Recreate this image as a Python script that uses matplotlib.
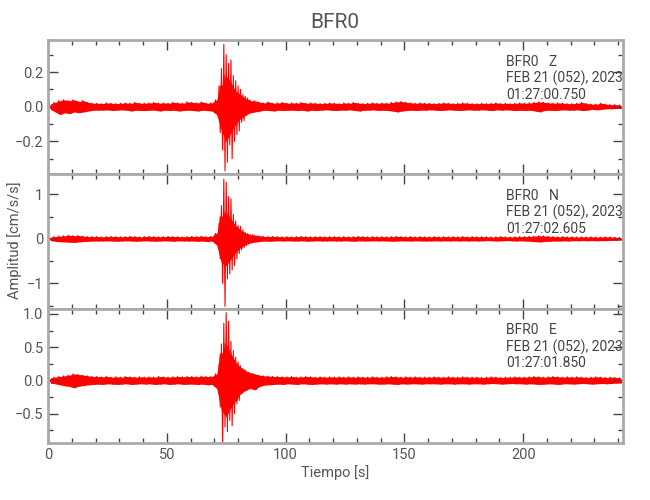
import numpy as np
import matplotlib
matplotlib.use("Agg")
import matplotlib.pyplot as plt
from matplotlib.ticker import MultipleLocator, FuncFormatter

plt.rcParams['font.family'] = ['Roboto', 'DejaVu Sans']

# station / trace info
station = "BFR0"
components = ["Z", "N", "E"]
date_str = "FEB 21 (052), 2023"
start_times = ["01:27:00.750", "01:27:02.605", "01:27:01.850"]

# band of background noise: max / min in 2 s bins (0-242 s)
z_hi = [0.015, 0.025, 0.035, 0.04, 0.035, 0.04, 0.03, 0.035, 0.025, 0.02,
        0.02, 0.018, 0.022, 0.02, 0.018, 0.02, 0.022, 0.02, 0.025, 0.02,
        0.02, 0.022, 0.025, 0.02, 0.022, 0.02, 0.025, 0.022, 0.02, 0.028,
        0.025, 0.022, 0.028, 0.02, 0.022, 0.04, 0.12, 0.18, 0.14, 0.09,
        0.07, 0.05, 0.035, 0.03, 0.025, 0.022, 0.028, 0.02, 0.022, 0.025,
        0.02, 0.022, 0.02, 0.025, 0.02, 0.022, 0.02, 0.018, 0.02, 0.022,
        0.02, 0.018, 0.022, 0.02, 0.025, 0.02, 0.018, 0.02, 0.022, 0.02,
        0.022, 0.02, 0.025, 0.028, 0.03, 0.025, 0.022, 0.02, 0.022, 0.02,
        0.02, 0.018, 0.02, 0.022, 0.02, 0.018, 0.02, 0.022, 0.02, 0.018,
        0.018, 0.02, 0.018, 0.02, 0.022, 0.018, 0.02, 0.018, 0.02, 0.022,
        0.02, 0.022, 0.025, 0.028, 0.025, 0.022, 0.02, 0.022, 0.02, 0.018,
        0.018, 0.02, 0.025, 0.018, 0.015, 0.015, 0.02, 0.015, 0.012, 0.012, 0.01]
z_lo = [-0.015, -0.03, -0.045, -0.035, -0.04, -0.03, -0.035, -0.03, -0.025, -0.02,
        -0.02, -0.02, -0.018, -0.022, -0.02, -0.018, -0.02, -0.025, -0.02, -0.022,
        -0.022, -0.02, -0.02, -0.025, -0.02, -0.022, -0.02, -0.025, -0.022, -0.02,
        -0.022, -0.025, -0.02, -0.022, -0.025, -0.045, -0.14, -0.2, -0.15, -0.1,
        -0.07, -0.05, -0.035, -0.03, -0.025, -0.02, -0.022, -0.025, -0.02, -0.022,
        -0.02, -0.02, -0.022, -0.02, -0.025, -0.02, -0.022, -0.02, -0.018, -0.02,
        -0.022, -0.02, -0.02, -0.018, -0.022, -0.025, -0.02, -0.02, -0.018, -0.022,
        -0.02, -0.022, -0.025, -0.03, -0.025, -0.022, -0.02, -0.022, -0.02, -0.02,
        -0.018, -0.02, -0.022, -0.02, -0.018, -0.02, -0.022, -0.02, -0.018, -0.02,
        -0.02, -0.018, -0.02, -0.022, -0.018, -0.02, -0.018, -0.02, -0.022, -0.02,
        -0.022, -0.02, -0.025, -0.03, -0.022, -0.02, -0.022, -0.02, -0.018, -0.02,
        -0.02, -0.018, -0.022, -0.02, -0.015, -0.018, -0.015, -0.012, -0.012, -0.01, -0.01]

n_hi = [0.04, 0.05, 0.06, 0.07, 0.08, 0.07, 0.075, 0.06, 0.05, 0.05,
        0.05, 0.045, 0.05, 0.055, 0.05, 0.045, 0.05, 0.055, 0.05, 0.045,
        0.05, 0.055, 0.05, 0.045, 0.05, 0.055, 0.05, 0.05, 0.045, 0.05,
        0.055, 0.05, 0.06, 0.05, 0.055, 0.12, 0.5, 0.6, 0.45, 0.3,
        0.2, 0.13, 0.09, 0.07, 0.06, 0.055, 0.05, 0.055, 0.05, 0.045,
        0.05, 0.045, 0.05, 0.055, 0.05, 0.045, 0.05, 0.05, 0.045, 0.05,
        0.05, 0.045, 0.05, 0.045, 0.05, 0.055, 0.05, 0.045, 0.05, 0.045,
        0.05, 0.045, 0.05, 0.055, 0.05, 0.045, 0.05, 0.045, 0.05, 0.045,
        0.045, 0.05, 0.045, 0.05, 0.045, 0.05, 0.045, 0.05, 0.045, 0.05,
        0.045, 0.05, 0.045, 0.04, 0.045, 0.05, 0.045, 0.04, 0.045, 0.05,
        0.05, 0.055, 0.06, 0.07, 0.065, 0.055, 0.05, 0.045, 0.05, 0.045,
        0.045, 0.04, 0.045, 0.04, 0.045, 0.04, 0.04, 0.045, 0.04, 0.035, 0.03]
n_lo = [-0.04, -0.055, -0.065, -0.07, -0.075, -0.08, -0.07, -0.06, -0.055, -0.05,
        -0.05, -0.05, -0.045, -0.05, -0.055, -0.05, -0.045, -0.05, -0.055, -0.05,
        -0.045, -0.05, -0.055, -0.05, -0.045, -0.05, -0.055, -0.045, -0.05, -0.05,
        -0.05, -0.055, -0.05, -0.06, -0.05, -0.14, -0.55, -0.6, -0.45, -0.3,
        -0.2, -0.13, -0.09, -0.07, -0.06, -0.05, -0.055, -0.05, -0.045, -0.05,
        -0.045, -0.05, -0.05, -0.045, -0.055, -0.05, -0.045, -0.05, -0.05, -0.045,
        -0.05, -0.05, -0.045, -0.05, -0.055, -0.045, -0.05, -0.05, -0.045, -0.05,
        -0.045, -0.05, -0.055, -0.05, -0.045, -0.05, -0.05, -0.045, -0.05, -0.05,
        -0.05, -0.045, -0.05, -0.045, -0.05, -0.045, -0.05, -0.045, -0.05, -0.045,
        -0.05, -0.045, -0.04, -0.045, -0.05, -0.045, -0.04, -0.045, -0.05, -0.045,
        -0.05, -0.055, -0.065, -0.07, -0.06, -0.055, -0.05, -0.05, -0.045, -0.05,
        -0.04, -0.045, -0.04, -0.045, -0.04, -0.045, -0.04, -0.04, -0.035, -0.035, -0.03]

e_hi = [0.04, 0.05, 0.06, 0.07, 0.08, 0.1, 0.09, 0.08, 0.07, 0.06,
        0.06, 0.055, 0.06, 0.05, 0.055, 0.05, 0.06, 0.055, 0.05, 0.055,
        0.05, 0.055, 0.05, 0.06, 0.055, 0.05, 0.055, 0.06, 0.055, 0.06,
        0.06, 0.055, 0.065, 0.06, 0.06, 0.1, 0.4, 0.55, 0.4, 0.28,
        0.2, 0.15, 0.12, 0.1, 0.08, 0.07, 0.065, 0.06, 0.06, 0.055,
        0.055, 0.06, 0.05, 0.055, 0.06, 0.055, 0.05, 0.055, 0.05, 0.055,
        0.05, 0.055, 0.05, 0.055, 0.05, 0.055, 0.05, 0.05, 0.055, 0.05,
        0.05, 0.055, 0.06, 0.055, 0.05, 0.055, 0.05, 0.055, 0.05, 0.05,
        0.05, 0.055, 0.05, 0.05, 0.055, 0.05, 0.05, 0.055, 0.05, 0.05,
        0.05, 0.045, 0.05, 0.055, 0.05, 0.045, 0.05, 0.05, 0.055, 0.05,
        0.05, 0.055, 0.06, 0.055, 0.05, 0.055, 0.06, 0.055, 0.05, 0.055,
        0.05, 0.055, 0.05, 0.045, 0.05, 0.055, 0.05, 0.045, 0.05, 0.045, 0.04]
e_lo = [-0.04, -0.05, -0.065, -0.08, -0.09, -0.11, -0.085, -0.075, -0.065, -0.06,
        -0.055, -0.06, -0.05, -0.055, -0.06, -0.055, -0.05, -0.06, -0.055, -0.05,
        -0.055, -0.05, -0.06, -0.055, -0.05, -0.06, -0.055, -0.05, -0.06, -0.055,
        -0.055, -0.06, -0.055, -0.065, -0.06, -0.12, -0.45, -0.55, -0.4, -0.3,
        -0.2, -0.15, -0.12, -0.14, -0.09, -0.07, -0.065, -0.06, -0.055, -0.06,
        -0.05, -0.055, -0.06, -0.05, -0.055, -0.06, -0.055, -0.05, -0.055, -0.05,
        -0.055, -0.05, -0.055, -0.05, -0.055, -0.05, -0.055, -0.05, -0.05, -0.055,
        -0.055, -0.05, -0.055, -0.06, -0.05, -0.055, -0.05, -0.05, -0.055, -0.05,
        -0.05, -0.05, -0.055, -0.05, -0.05, -0.055, -0.05, -0.05, -0.055, -0.05,
        -0.05, -0.055, -0.05, -0.045, -0.05, -0.055, -0.05, -0.045, -0.05, -0.05,
        -0.055, -0.05, -0.055, -0.06, -0.055, -0.05, -0.055, -0.06, -0.05, -0.05,
        -0.055, -0.05, -0.045, -0.05, -0.055, -0.05, -0.045, -0.05, -0.045, -0.04, -0.04]

# strong motion part, alternating peaks every 0.5 s from 70 s to 90 s
z_evt = [0.02, -0.025, 0.03, -0.05, 0.12, -0.15, 0.22, -0.25, 0.36, -0.37,
         0.30, -0.32, 0.25, -0.22, 0.27, -0.30, 0.18, -0.20, 0.15, -0.16,
         0.12, -0.14, 0.10, -0.09, 0.07, -0.08, 0.06, -0.05, 0.05, -0.04,
         0.04, -0.035, 0.03, -0.03, 0.035, -0.025, 0.03, -0.03, 0.025, -0.025, 0.02]
n_evt = [0.06, -0.07, 0.10, -0.15, 0.35, -0.45, 0.75, -1.0, 1.34, -1.52,
         1.27, -0.9, 0.95, -0.79, 0.9, -0.7, 0.55, -0.6, 0.4, -0.45,
         0.3, -0.33, 0.28, -0.25, 0.2, -0.2, 0.15, -0.15, 0.12, -0.12,
         0.1, -0.1, 0.09, -0.08, 0.08, -0.08, 0.07, -0.07, 0.06, -0.06, 0.05]
e_evt = [0.05, -0.05, 0.06, -0.1, 0.25, -0.4, 0.55, -0.93, 0.86, -0.7,
         1.02, -0.77, 0.89, -0.6, 0.59, -0.68, 0.45, -0.5, 0.35, -0.35,
         0.28, -0.3, 0.22, -0.2, 0.18, -0.16, 0.16, -0.15, 0.12, -0.11,
         0.1, -0.12, 0.08, -0.09, 0.07, -0.07, 0.06, -0.06, 0.06, -0.05, 0.05]

bands = [(z_hi, z_lo, z_evt), (n_hi, n_lo, n_evt), (e_hi, e_lo, e_evt)]
ylims = [(-0.39, 0.385), (-1.57, 1.45), (-0.94, 1.08)]
major = [0.2, 1.0, 0.5]
minor = [0.1, 0.5, 0.25]
fmts = ['%.1f', '%d', '%.1f']

spine_col = '#aaaaaa'
txt_col = '#555555'

fig = plt.figure(figsize=(6.5, 5.0), dpi=100)
left, right = 48 / 650, 623 / 650
top, bottom = 1 - 40 / 500, 1 - 443 / 500
h = (top - bottom) / 3

for i, (hi, lo, evt) in enumerate(bands):
    ax = fig.add_axes([left, top - (i + 1) * h, right - left, h])
    tb = np.arange(len(hi)) * 2.0 + 1.0
    ax.fill_between(tb, lo, hi, color='red', lw=0)
    # zig-zag through the bin extremes
    tz = np.column_stack([tb - 0.5, tb + 0.5]).ravel()
    vz = np.column_stack([hi, lo]).ravel()
    ax.plot(tz, vz, color='red', lw=0.8)
    te = 70 + 0.5 * np.arange(len(evt))
    ax.plot(te, evt, color='red', lw=0.8)

    ax.set_xlim(0, 242)
    ax.set_ylim(*ylims[i])
    ax.xaxis.set_major_locator(MultipleLocator(50))
    ax.xaxis.set_minor_locator(MultipleLocator(10))
    ax.yaxis.set_major_locator(MultipleLocator(major[i]))
    ax.yaxis.set_minor_locator(MultipleLocator(minor[i]))
    f = fmts[i]
    ax.yaxis.set_major_formatter(FuncFormatter(lambda v, p, f=f: (f % v).replace('-', '\u2212')))
    for s in ax.spines.values():
        s.set_color(spine_col)
        s.set_linewidth(2)
    ax.tick_params(which='both', direction='in', top=True, right=True,
                   color='#444444', labelcolor=txt_col, labelsize=10.5, width=1)
    ax.tick_params(which='major', length=7)
    ax.tick_params(which='minor', length=3.5)
    if i < 2:
        ax.tick_params(labelbottom=False)
    else:
        ax.set_xlabel('Tiempo [s]', color=txt_col, fontsize=10.5, labelpad=2)

    ax.text(0.797, 0.89, f"{station}   {components[i]}\n{date_str}\n{start_times[i]}",
            transform=ax.transAxes, ha='left', va='top', color='#444444',
            fontsize=10, linespacing=1.15)

fig.text(0.515, 0.955, station, ha='center', va='center', color=txt_col, fontsize=15)
fig.text(0.022, 0.52, 'Amplitud [cm/s/s]', rotation=90, ha='center', va='center',
         color=txt_col, fontsize=10.5)

fig.savefig('out.png', dpi=100)
